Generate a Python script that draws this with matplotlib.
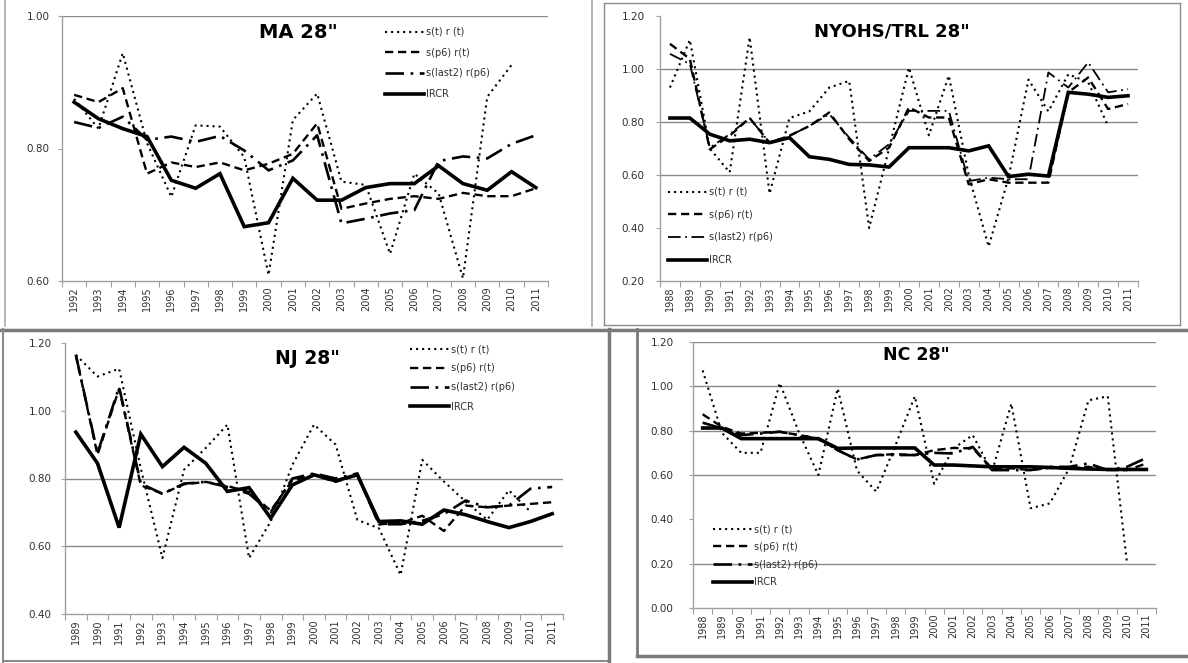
import numpy as np
import matplotlib
matplotlib.use("Agg")
import matplotlib.pyplot as plt
from matplotlib.lines import Line2D

W, H = 1188, 663
nan = np.nan

series_labels = ["s(t) r (t)", "s(p6) r(t)", "s(last2) r(p6)", "IRCR"]

# ---------------- MA 28" ----------------
ma_years = ["1992", "1993", "1994", "1995", "1996", "1997", "1998", "1999", "2000", "2001",
            "2002", "2003", "2004", "2005", "2006", "2007", "2008", "2009", "2010", "2011"]
ma_st = [0.875, 0.830, 0.944, 0.808, 0.727, 0.835, 0.833, 0.787, 0.609, 0.843,
         0.883, 0.750, 0.745, 0.641, 0.762, 0.732, 0.604, 0.878, 0.926, nan]
ma_p6 = [0.881, 0.870, 0.891, 0.762, 0.779, 0.772, 0.779, 0.767, 0.777, 0.792,
         0.838, 0.709, 0.717, 0.724, 0.728, 0.724, 0.733, 0.728, 0.728, 0.740]
ma_l2 = [0.840, 0.831, 0.848, 0.813, 0.818, 0.810, 0.819, 0.797, 0.767, 0.782,
         0.820, 0.687, 0.694, 0.702, 0.707, 0.781, 0.788, 0.785, 0.807, 0.820]
ma_ircr = [0.870, 0.845, 0.830, 0.818, 0.752, 0.740, 0.762, 0.682, 0.688, 0.755,
           0.722, 0.722, 0.741, 0.747, 0.747, 0.774, 0.747, 0.737, 0.765, 0.741]

# ---------------- NYOHS/TRL 28" ----------------
ny_years = ["1988", "1989", "1990", "1991", "1992", "1993", "1994", "1995", "1996", "1997",
            "1998", "1999", "2000", "2001", "2002", "2003", "2004", "2005", "2006", "2007",
            "2008", "2009", "2010", "2011"]
ny_st = [0.93, 1.11, 0.70, 0.61, 1.12, 0.53, 0.815, 0.84, 0.93, 0.955,
         0.40, 0.70, 1.005, 0.75, 0.975, 0.60, 0.33, 0.59, 0.96, 0.84,
         0.98, 0.95, 0.785, nan]
ny_p6 = [1.095, 1.038, 0.697, 0.748, 0.815, 0.722, 0.748, 0.785, 0.836, 0.735,
         0.653, 0.703, 0.855, 0.817, 0.817, 0.565, 0.584, 0.571, 0.571, 0.571,
         0.912, 0.968, 0.849, 0.868]
ny_l2 = [1.057, 1.019, 0.703, 0.754, 0.815, 0.722, 0.748, 0.785, 0.830, 0.741,
         0.659, 0.716, 0.842, 0.842, 0.842, 0.577, 0.590, 0.584, 0.584, 0.987,
         0.930, 1.025, 0.912, 0.924]
ny_ircr = [0.815, 0.815, 0.754, 0.729, 0.735, 0.722, 0.741, 0.669, 0.659, 0.640,
           0.638, 0.630, 0.703, 0.703, 0.703, 0.691, 0.710, 0.594, 0.603, 0.596,
           0.912, 0.905, 0.893, 0.899]

# ---------------- NJ 28" ----------------
nj_years = ["1989", "1990", "1991", "1992", "1993", "1994", "1995", "1996", "1997", "1998",
            "1999", "2000", "2001", "2002", "2003", "2004", "2005", "2006", "2007", "2008",
            "2009", "2010", "2011"]
nj_st = [1.165, 1.101, 1.124, 0.830, 0.565, 0.826, 0.890, 0.959, 0.565, 0.673,
         0.840, 0.959, 0.900, 0.678, 0.653, 0.515, 0.855, 0.791, 0.732, 0.678,
         0.765, 0.702, nan]
nj_p6 = [1.165, 0.870, 1.065, 0.780, 0.755, 0.783, 0.790, 0.778, 0.760, 0.705,
         0.795, 0.810, 0.790, 0.810, 0.665, 0.668, 0.690, 0.645, 0.720, 0.715,
         0.720, 0.725, 0.730]
nj_l2 = [1.165, 0.875, 1.070, 0.785, 0.755, 0.785, 0.790, 0.775, 0.755, 0.700,
         0.800, 0.815, 0.800, 0.815, 0.665, 0.665, 0.675, 0.695, 0.735, 0.715,
         0.720, 0.770, 0.775]
nj_ircr = [0.937, 0.845, 0.655, 0.931, 0.835, 0.892, 0.845, 0.762, 0.773, 0.683,
           0.781, 0.811, 0.793, 0.811, 0.673, 0.675, 0.665, 0.707, 0.693, 0.673,
           0.655, 0.673, 0.696]

# ---------------- NC 28" ----------------
nc_years = ny_years
nc_st = [1.072, 0.790, 0.700, 0.700, 1.015, 0.790, 0.600, 0.990, 0.620, 0.525,
         0.735, 0.955, 0.560, 0.720, 0.780, 0.614, 0.922, 0.450, 0.472, 0.630,
         0.937, 0.955, 0.200, nan]
nc_p6 = [0.874, 0.817, 0.787, 0.790, 0.795, 0.780, 0.764, 0.712, 0.670, 0.690,
         0.694, 0.690, 0.712, 0.722, 0.720, 0.630, 0.630, 0.622, 0.632, 0.630,
         0.637, 0.622, 0.622, 0.652]
nc_l2 = [0.836, 0.810, 0.780, 0.787, 0.795, 0.780, 0.762, 0.712, 0.670, 0.690,
         0.690, 0.690, 0.700, 0.697, 0.727, 0.622, 0.622, 0.622, 0.637, 0.637,
         0.652, 0.622, 0.637, 0.677]
nc_ircr = [0.812, 0.812, 0.764, 0.764, 0.764, 0.764, 0.764, 0.720, 0.722, 0.722,
           0.722, 0.722, 0.645, 0.645, 0.641, 0.637, 0.637, 0.637, 0.634, 0.630,
           0.627, 0.625, 0.625, 0.625]

# ---------------- drawing ----------------
fig = plt.figure(figsize=(W / 100, H / 100), dpi=100, facecolor="white")

AX_GRAY = "#8a8a8a"
TXT = "#303030"


def line_styles(l2_lw):
    return [
        dict(ls=(0, (1, 1.9)), lw=1.5),
        dict(ls=(0, (3.5, 2)), lw=1.7),
        dict(ls=(0, (7, 2.5, 1, 2.5)), lw=l2_lw),
        dict(ls="-", lw=2.6),
    ]


def panel(box, cats, series, ylim, yticks, grids, title, title_xy, title_size,
          leg_xy, leg_spacing, ypad, l2_lw=1.9):
    l, t, r, b = box
    ax = fig.add_axes([l / W, 1 - b / H, (r - l) / W, (b - t) / H])
    x = np.arange(len(cats))
    for vals, st, lab in zip(series, line_styles(l2_lw), series_labels):
        ax.plot(x, vals, color="black", label=lab, solid_joinstyle="miter", **st)
    ax.set_xlim(-0.5, len(cats) - 0.5)
    ax.set_ylim(*ylim)
    for g in grids:
        ax.axhline(g, color=AX_GRAY, lw=1.0, zorder=0)
    for s in ("top", "right"):
        ax.spines[s].set_visible(False)
    for s in ("left", "bottom"):
        ax.spines[s].set_color("#a0a0a0")
        ax.spines[s].set_linewidth(1.0)
    ax.set_yticks(yticks)
    ax.set_yticklabels(["%.2f" % v for v in yticks])
    ax.set_xticks(np.arange(len(cats) + 1) - 0.5)
    ax.set_xticklabels([])
    ax.set_xticks(x, minor=True)
    ax.set_xticklabels(cats, minor=True, rotation=90)
    ax.tick_params(axis="x", which="major", length=4, color="#a0a0a0", direction="out")
    ax.tick_params(axis="x", which="minor", length=0, pad=4, labelsize=7, labelcolor=TXT)
    ax.tick_params(axis="y", length=3, color="#a0a0a0", pad=ypad, labelsize=7.5, labelcolor=TXT)
    ax.set_facecolor("none")
    fig.text(title_xy[0] / W, 1 - title_xy[1] / H, title, ha="center", va="center",
             fontsize=title_size, fontweight="bold", color="black")
    handles, labels = ax.get_legend_handles_labels()
    fig.legend(handles, labels, loc="upper left",
               bbox_to_anchor=(leg_xy[0] / W, 1 - leg_xy[1] / H),
               frameon=False, fontsize=7, handlelength=4.0, handletextpad=0.25,
               labelspacing=leg_spacing, borderpad=0, borderaxespad=0,
               labelcolor=TXT)
    return ax


panel((62, 16, 548, 281), ma_years, [ma_st, ma_p6, ma_l2, ma_ircr],
      (0.6, 1.0), [0.6, 0.8, 1.0], [1.0], 'MA 28"', (298, 32), 14,
      (385, 27), 1.1, 6)

panel((660, 16, 1138, 281), ny_years, [ny_st, ny_p6, ny_l2, ny_ircr],
      (0.2, 1.2), [0.2, 0.4, 0.6, 0.8, 1.0, 1.2], [0.6, 0.8, 1.0], 'NYOHS/TRL 28"',
      (892, 32), 13, (668, 187), 1.3, 8, l2_lw=1.3)

panel((65, 343, 563, 614), nj_years, [nj_st, nj_p6, nj_l2, nj_ircr],
      (0.4, 1.2), [0.4, 0.6, 0.8, 1.0, 1.2], [0.6, 0.8], 'NJ 28"',
      (307, 359), 13.5, (410, 344), 0.95, 6.5)

panel((693, 342, 1156, 608), nc_years, [nc_st, nc_p6, nc_l2, nc_ircr],
      (0.0, 1.2), [0.0, 0.2, 0.4, 0.6, 0.8, 1.0, 1.2], [0.2, 0.6, 0.8, 1.0, 1.2], 'NC 28"',
      (916, 355), 12.5, (713, 524), 0.8, 11)


# ---------------- screenshot frames ----------------
def fline(x0, y0, x1, y1, color="#8c8c8c", lw=1.2):
    fig.add_artist(Line2D([x0 / W, x1 / W], [1 - y0 / H, 1 - y1 / H],
                          transform=fig.transFigure, color=color, lw=lw))


fline(5, 0, 5, 326, "#a8a8a8", 1.2)
fline(592, 0, 592, 326, "#a8a8a8", 1.2)
fline(604, 3, 1180, 3, "#8c8c8c", 1.0)
fline(604, 3, 604, 325, "#8c8c8c", 1.0)
fline(1180, 3, 1180, 325, "#8c8c8c", 1.0)
fline(604, 325, 1180, 325, "#8c8c8c", 1.0)
fline(0, 329.5, W, 329.5, "#7a7a7a", 2.5)
fline(3, 329, 3, 663, "#8c8c8c", 1.5)
fline(3, 661, 608, 661, "#8c8c8c", 1.5)
fline(608.5, 329, 608.5, 663, "#7a7a7a", 2.5)
fline(637, 329, 637, 656, "#7a7a7a", 2.0)
fline(637, 656, W, 656, "#7a7a7a", 2.5)

fig.savefig("out.png", dpi=100, facecolor="white")
